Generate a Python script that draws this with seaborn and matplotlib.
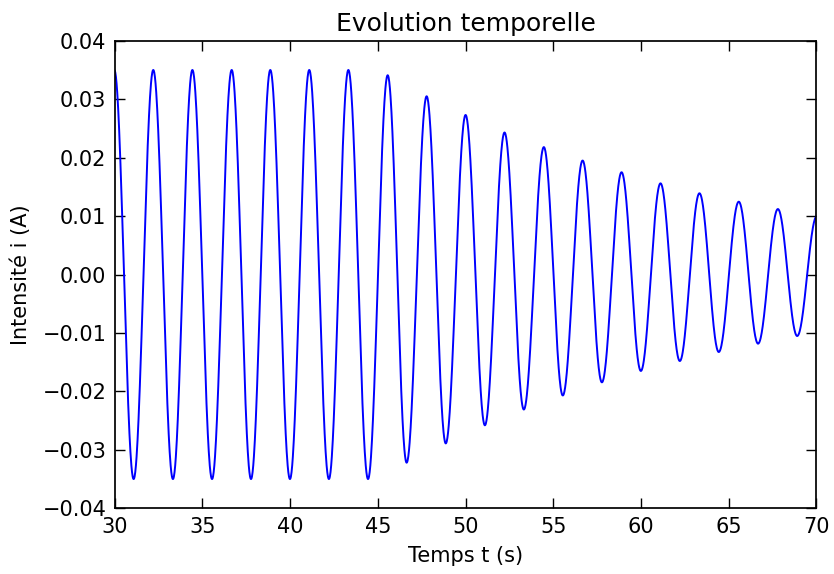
import numpy as np
import pandas as pd
import seaborn as sns
import matplotlib
matplotlib.use("Agg")
import matplotlib.pyplot as plt

# Extrema of the current (time in s, intensity in A)
ext_t = [29.98, 31.08, 32.20, 33.32, 34.43, 35.55, 36.67, 37.77, 38.87, 39.99,
         41.09, 42.21, 43.32, 44.44, 45.56, 46.64, 47.78, 48.87, 50.00, 51.10,
         52.22, 53.32, 54.46, 55.54, 56.67, 57.77, 58.89, 59.99, 61.11, 62.21,
         63.33, 64.43, 65.57, 66.67, 67.80, 68.90, 70.02]
ext_v = [0.0350, -0.0350, 0.0350, -0.0350, 0.0350, -0.0350, 0.0350, -0.0350, 0.0350, -0.0350,
         0.0350, -0.0350, 0.0350, -0.0350, 0.0341, -0.0322, 0.0305, -0.0289, 0.0273, -0.0258,
         0.0243, -0.0231, 0.0218, -0.0207, 0.0195, -0.01845, 0.0175, -0.0165, 0.0156, -0.0148,
         0.0139, -0.01326, 0.01246, -0.01183, 0.0112, -0.01052, 0.0100]

x_ticks = [30, 35, 40, 45, 50, 55, 60, 65, 70]
y_ticks = [-0.04, -0.03, -0.02, -0.01, 0.00, 0.01, 0.02, 0.03, 0.04]

# Smooth half-cosine segments between consecutive extrema
ts, vs = [], []
for i in range(len(ext_t) - 1):
    t0, t1 = ext_t[i], ext_t[i + 1]
    v0, v1 = ext_v[i], ext_v[i + 1]
    u = np.linspace(0, 1, 60, endpoint=False)
    ts.append(t0 + (t1 - t0) * u)
    vs.append(v1 + (v0 - v1) * (1 + np.cos(np.pi * u)) / 2)
ts.append([ext_t[-1]]); vs.append([ext_v[-1]])
df = pd.DataFrame({"t": np.concatenate(ts), "i": np.concatenate(vs)})

sns.set_style("ticks")
plt.rcParams["font.family"] = ["DejaVu Sans"]

fig = plt.figure(figsize=(8.34, 5.74), dpi=100)
ax = fig.add_axes([0.1375, 0.1145, 0.8415, 0.8145])
sns.lineplot(data=df, x="t", y="i", ax=ax, color="#0000ff", linewidth=1.4,
             estimator=None, sort=False)

ax.set_xlim(30, 70)
ax.set_ylim(-0.04, 0.04)
ax.set_xticks(x_ticks)
ax.set_yticks(y_ticks)
ax.set_yticklabels([f"{v:.2f}".replace("-", "\u2212") for v in y_ticks])
ax.tick_params(direction="in", top=True, right=True, length=7, width=1,
               labelsize=15, colors="black", pad=6)
for s in ax.spines.values():
    s.set_visible(True)
    s.set_color("black")
    s.set_linewidth(1.25)
ax.set_xlabel("Temps t (s)", fontsize=15, color="black", labelpad=7)
ax.set_ylabel("Intensité i (A)", fontsize=15, color="black", labelpad=8)
ax.set_title("Evolution temporelle", fontsize=18, color="black", pad=7)
ax.grid(False)

fig.savefig("out.png", dpi=100, facecolor="white")
